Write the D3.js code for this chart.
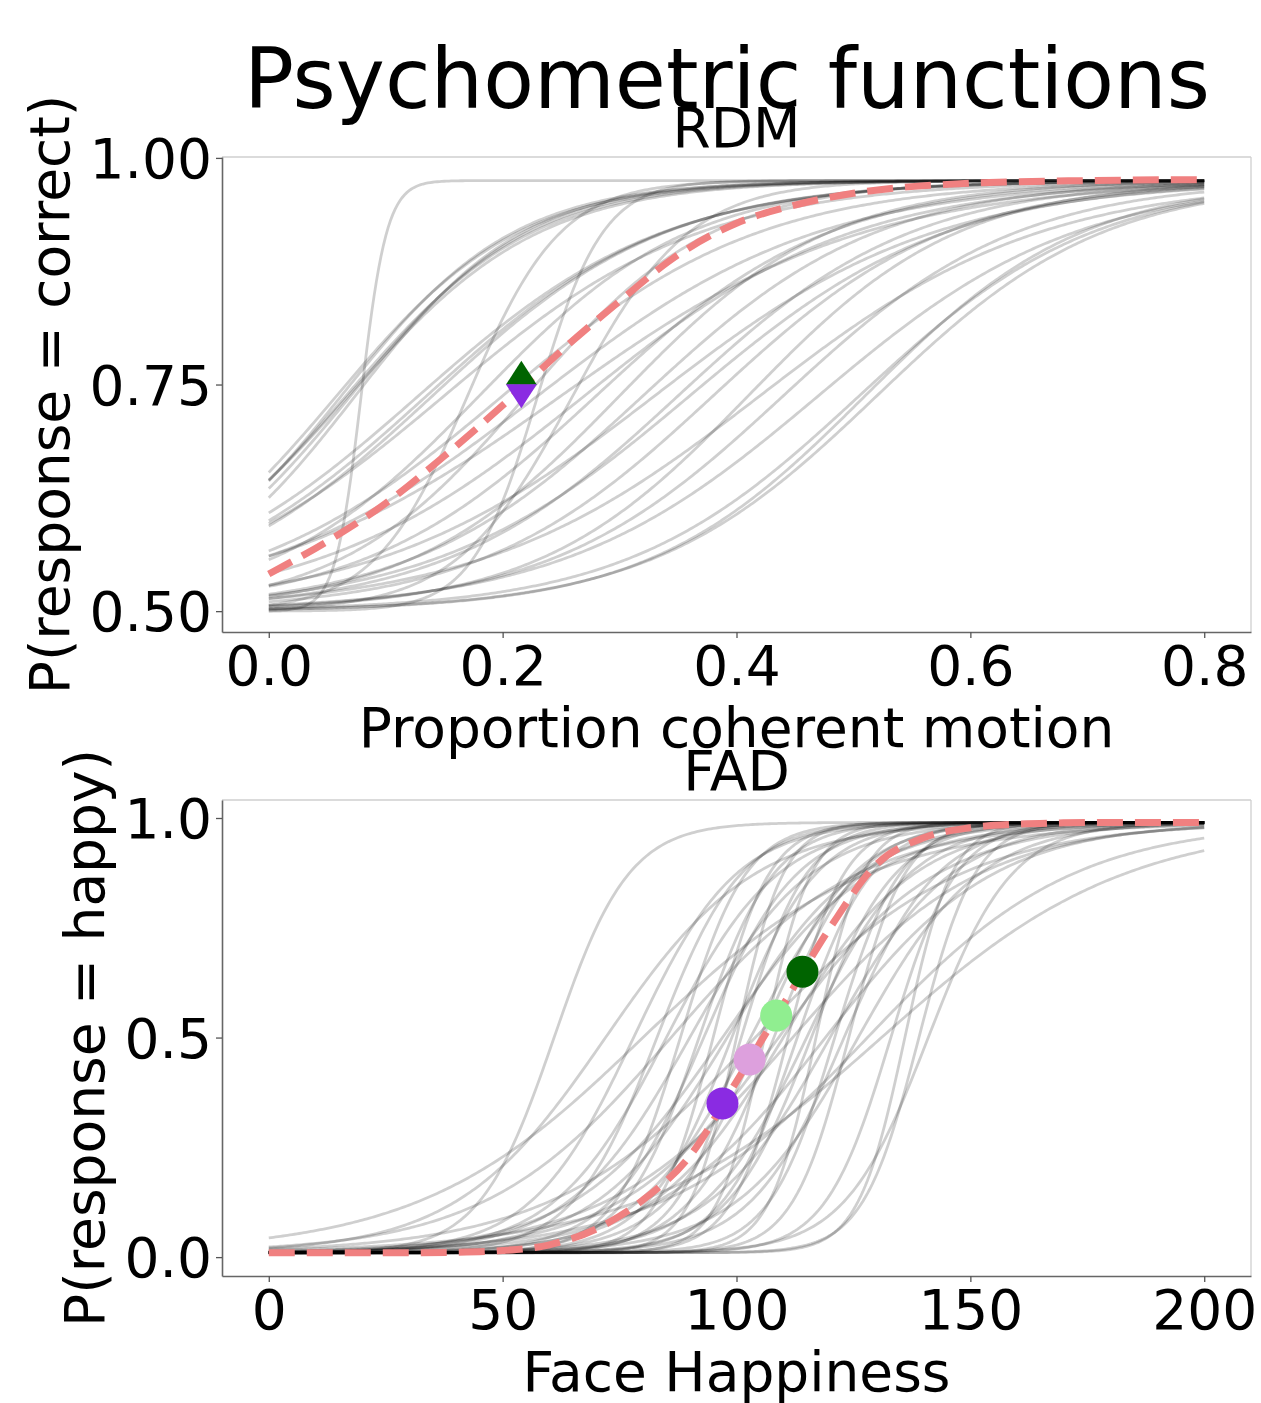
<!DOCTYPE html>
<html>
<head>
<meta charset="utf-8">
<script src="https://cdn.jsdelivr.net/npm/d3@7"></script>
<style>
  body { margin: 0; background: #fff; }
  svg { display: block; font-family: "DejaVu Sans", sans-serif; }
</style>
</head>
<body>
<div id="chart"></div>
<script>
// fitted psychometric parameters per participant (threshold, width), RDM task
const rdmThreshold = [0.070, 0.062, 0.066, 0.058, 0.074, 0.068,
  0.135, 0.140, 0.128, 0.150,
  0.200, 0.230, 0.250, 0.270,
  0.280, 0.300, 0.320, 0.350,
  0.380, 0.410, 0.440, 0.470,
  0.510, 0.520, 0.505,
  0.079, 0.170, 0.230, 0.260,
  0.180, 0.220, 0.330, 0.360, 0.420];
const rdmWidth = [0.076, 0.074, 0.080, 0.078, 0.072, 0.082,
  0.102, 0.100, 0.105, 0.110,
  0.110, 0.120, 0.130, 0.115,
  0.100, 0.090, 0.100, 0.100,
  0.100, 0.090, 0.100, 0.110,
  0.093, 0.097, 0.100,
  0.011, 0.040, 0.028, 0.050,
  0.090, 0.080, 0.120, 0.110, 0.120];

// group mean curve, RDM
const rdmMeanX = [0, 0.05, 0.1, 0.15, 0.2, 0.25, 0.3, 0.35, 0.4, 0.45, 0.5, 0.6, 0.7, 0.8];
const rdmMeanP = [0.541, 0.577, 0.619, 0.671, 0.727, 0.787, 0.842, 0.893, 0.928, 0.948, 0.961, 0.972, 0.975, 0.976];

const rdmMarkerX = [0.216, 0.216];
const rdmMarkerP = [0.763, 0.737];
const rdmMarkerShape = [`up`, `down`];
const rdmMarkerColor = [`#006400`, `#8a2be2`];

// FAD task
const fadThreshold = [61, 72, 78, 83, 86, 88, 90, 93, 95, 97, 99, 101, 103, 104, 106, 108,
  110, 111, 113, 115, 117, 119, 121, 123, 126, 128, 131, 133, 136, 139, 141, 80,
  85, 92, 98, 105, 109, 116, 120, 124, 100, 112];
const fadWidth = [8, 16, 11, 9, 20, 7, 13, 10, 6, 16, 9, 7, 12, 22, 5, 9,
  14, 6, 8, 11, 5, 18, 7, 10, 13, 22, 26, 7, 5, 6, 9, 24,
  12, 8, 14, 10, 17, 9, 13, 6, 5, 20];

const fadMeanX = [0, 10, 20, 30, 40, 50, 60, 70, 80, 90, 100, 110, 120, 130, 140, 150, 160, 170, 180, 190, 200];
const fadMeanP = [0.010, 0.010, 0.010, 0.010, 0.011, 0.015, 0.028, 0.064, 0.130, 0.230, 0.400,
  0.575, 0.750, 0.895, 0.955, 0.978, 0.986, 0.989, 0.990, 0.990, 0.990];

const fadMarkerX = [97, 102.8, 108.5, 114.1];
const fadMarkerP = [0.35, 0.45, 0.55, 0.65];
const fadMarkerColor = [`#8a2be2`, `#dda0dd`, `#90ee90`, `#006400`];

const rdmTicksX = [0, 0.2, 0.4, 0.6, 0.8];
const rdmTicksY = [0.5, 0.75, 1.0];
const fadTicksX = [0, 50, 100, 150, 200];
const fadTicksY = [0, 0.5, 1.0];

const W = 1261, H = 1403;
const FS = 55;

const psychometric = (x, a, b, lo, hi) => lo + (hi - lo) / (1 + Math.exp(-(x - a) / b));

const svg = d3.select(`#chart`).append(`svg`)
  .attr(`width`, W)
  .attr(`height`, H);

svg.append(`text`)
  .attr(`x`, 727).attr(`y`, 108)
  .attr(`text-anchor`, `middle`)
  .style(`font-size`, `83px`)
  .text(`Psychometric functions`);

function drawPanel(cfg) {
  const x = d3.scaleLinear().domain(cfg.xDomain).range([222, 1251]);
  const y = d3.scaleLinear().domain(cfg.yDomain).range([cfg.bottom, cfg.top]);
  const g = svg.append(`g`);

  const line = d3.line().x(d => x(d[0])).y(d => y(d[1]));

  // individual curves
  const grid = d3.range(0, 401).map(i => cfg.xMin + (cfg.xMax - cfg.xMin) * i / 400);
  cfg.thresholds.forEach((a, i) => {
    const b = cfg.widths[i];
    g.append(`path`)
      .attr(`d`, line(grid.map(v => [v, psychometric(v, a, b, cfg.lo, cfg.hi)])))
      .attr(`fill`, `none`)
      .attr(`stroke`, `#000`)
      .attr(`stroke-opacity`, 0.19)
      .attr(`stroke-width`, 2.8);
  });

  // mean curve
  g.append(`path`)
    .attr(`d`, line.curve(d3.curveMonotoneX)(cfg.meanX.map((v, i) => [v, cfg.meanP[i]])))
    .attr(`fill`, `none`)
    .attr(`stroke`, `#f08080`)
    .attr(`stroke-width`, 7)
    .attr(`stroke-dasharray`, `26,12`);

  // spines
  g.append(`line`).attr(`x1`, 222).attr(`x2`, 1251).attr(`y1`, cfg.top).attr(`y2`, cfg.top)
    .attr(`stroke`, `#cfcfcf`).attr(`stroke-width`, 1.3);
  g.append(`line`).attr(`x1`, 1251).attr(`x2`, 1251).attr(`y1`, cfg.top).attr(`y2`, cfg.bottom)
    .attr(`stroke`, `#cfcfcf`).attr(`stroke-width`, 1.3);

  const xAxis = g.append(`g`)
    .attr(`transform`, `translate(0,${cfg.bottom})`)
    .call(d3.axisBottom(x).tickValues(cfg.ticksX).tickFormat(cfg.fmtX).tickSize(6).tickSizeOuter(0));
  const yAxis = g.append(`g`)
    .attr(`transform`, `translate(222,0)`)
    .call(d3.axisLeft(y).tickValues(cfg.ticksY).tickFormat(cfg.fmtY).tickSize(6).tickSizeOuter(0));

  [xAxis, yAxis].forEach(ax => {
    ax.select(`.domain`).attr(`stroke`, `#666`).attr(`stroke-width`, 1.6);
    ax.selectAll(`.tick line`).attr(`stroke`, `#555`).attr(`stroke-width`, 1.3);
    ax.selectAll(`.tick text`)
      .attr(`fill`, `#000`)
      .style(`font-size`, `${FS}px`)
      .style(`font-family`, `"DejaVu Sans", sans-serif`);
  });
  xAxis.selectAll(`.tick text`).attr(`y`, 53).attr(`dy`, 0);
  yAxis.selectAll(`.tick text`).attr(`x`, -10).attr(`dy`, `0.36em`);

  // markers
  cfg.markers(g, x, y);

  const cx = (222 + 1251) / 2;
  svg.append(`text`).attr(`x`, cx).attr(`y`, cfg.top - 10)
    .attr(`text-anchor`, `middle`).style(`font-size`, `${FS}px`).text(cfg.title);
  svg.append(`text`).attr(`x`, cx).attr(`y`, cfg.bottom + 115)
    .attr(`text-anchor`, `middle`).style(`font-size`, `${FS}px`).text(cfg.xLabel);
  svg.append(`text`)
    .attr(`transform`, `translate(${cfg.yLabelX},${(cfg.top + cfg.bottom) / 2}) rotate(-90)`)
    .attr(`text-anchor`, `middle`).style(`font-size`, `${FS}px`).text(cfg.yLabel);
}

function triangle(cx, cy, w, h, up) {
  const p = d3.path();
  if (up) {
    p.moveTo(cx, cy - h / 2); p.lineTo(cx + w / 2, cy + h / 2); p.lineTo(cx - w / 2, cy + h / 2);
  } else {
    p.moveTo(cx, cy + h / 2); p.lineTo(cx + w / 2, cy - h / 2); p.lineTo(cx - w / 2, cy - h / 2);
  }
  p.closePath();
  return p.toString();
}

drawPanel({
  xDomain: [-0.04, 0.84], yDomain: [0.477, 1.001],
  top: 157, bottom: 632,
  xMin: 0, xMax: 0.8, lo: 0.5, hi: 0.975,
  thresholds: rdmThreshold, widths: rdmWidth,
  meanX: rdmMeanX, meanP: rdmMeanP,
  ticksX: rdmTicksX, ticksY: rdmTicksY,
  fmtX: d3.format(`.1f`), fmtY: d3.format(`.2f`),
  title: `RDM`, xLabel: `Proportion coherent motion`,
  yLabel: `P(response = correct)`, yLabelX: 69,
  markers: (g, x, y) => {
    rdmMarkerX.forEach((v, i) => {
      g.append(`path`)
        .attr(`d`, triangle(x(v), y(rdmMarkerP[i]), 31, 24, rdmMarkerShape[i] === `up`))
        .attr(`fill`, rdmMarkerColor[i]);
    });
  }
});

drawPanel({
  xDomain: [-10, 210], yDomain: [-0.043, 1.041],
  top: 800, bottom: 1276,
  xMin: 0, xMax: 200, lo: 0.01, hi: 0.99,
  thresholds: fadThreshold, widths: fadWidth,
  meanX: fadMeanX, meanP: fadMeanP,
  ticksX: fadTicksX, ticksY: fadTicksY,
  fmtX: d3.format(`d`), fmtY: d3.format(`.1f`),
  title: `FAD`, xLabel: `Face Happiness`,
  yLabel: `P(response = happy)`, yLabelX: 104,
  markers: (g, x, y) => {
    g.selectAll(`circle.fad`)
      .data(fadMarkerX)
      .enter().append(`circle`)
        .attr(`cx`, d => x(d))
        .attr(`cy`, (d, i) => y(fadMarkerP[i]))
        .attr(`r`, 16)
        .attr(`fill`, (d, i) => fadMarkerColor[i]);
  }
});
</script>
</body>
</html>
